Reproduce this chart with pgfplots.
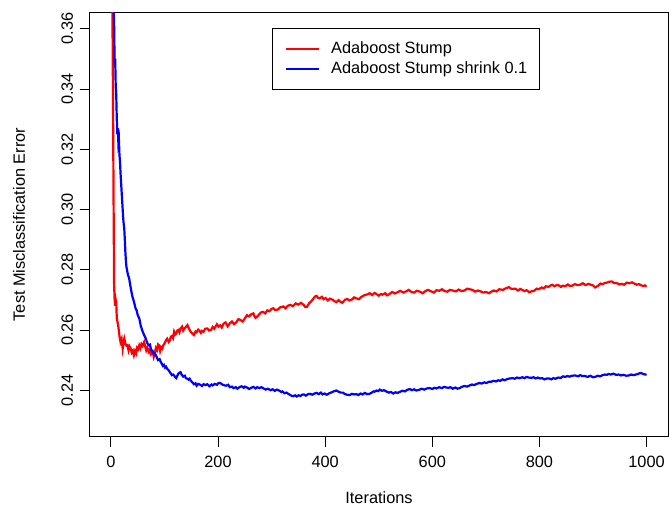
\documentclass[border=0pt]{standalone}
\usepackage{fontspec}
\setmainfont{Liberation Sans}
\usepackage{pgfplots}
\pgfplotsset{compat=1.18}
\pgfplotstableread{
it err
1 0.410
2 0.380
3 0.362
4 0.335
5 0.303
6 0.275
7 0.270
8 0.268
9 0.270
10 0.269
11 0.264
12 0.263
13 0.262
14 0.261
16 0.258
18 0.256
20 0.257
22 0.2538
24 0.2562
25 0.2571
27 0.2555
29 0.2548
31 0.2549
33 0.2532
35 0.2545
37 0.2538
39 0.2525
41 0.2531
43 0.2516
45 0.2530
47 0.2522
49 0.2541
51 0.2536
53 0.2549
55 0.2540
57 0.2553
59 0.2547
62 0.2560
64 0.2545
66 0.2532
68 0.2541
71 0.2527
73 0.2535
75 0.2520
78 0.2528
80 0.2511
82 0.2524
84 0.2540
86 0.2533
88 0.2552
90 0.2549
92 0.2530
94 0.2542
96 0.2538
98 0.2550
100 0.2555
103 0.2566
105 0.2571
108 0.2560
110 0.2565
112 0.2578
114 0.2580
116 0.2573
118 0.2594
120 0.2585
122 0.2588
124 0.2598
126 0.2600
128 0.2592
130 0.2605
133 0.2611
135 0.2598
138 0.2606
140 0.2610
143 0.2616
145 0.2607
147 0.2600
149 0.2594
151 0.2590
153 0.2586
155 0.2583
158 0.2595
160 0.2592
163 0.2601
165 0.2598
168 0.2590
170 0.2597
173 0.2594
176 0.2604
180 0.2605
183 0.2598
187 0.2600
190 0.2610
193 0.2604
195 0.2610
198 0.2619
201 0.2611
204 0.2615
207 0.2608
210 0.2620
214 0.2625
218 0.2612
222 0.2622
226 0.2628
230 0.2619
234 0.2625
238 0.2636
242 0.2633
246 0.2628
250 0.2638
254 0.2649
258 0.2645
262 0.2652
266 0.2655
268 0.2646
270 0.2640
273 0.2644
276 0.2650
280 0.2658
284 0.2660
288 0.2655
292 0.2665
296 0.2662
300 0.2670
303 0.2672
307 0.2666
312 0.2668
316 0.2675
322 0.2678
326 0.2672
330 0.2680
335 0.2683
340 0.2679
345 0.2688
350 0.2684
355 0.2690
360 0.2683
363 0.2676
366 0.2677
370 0.2688
374 0.2695
378 0.2704
381 0.2711
384 0.2713
387 0.2706
390 0.2705
394 0.2710
397 0.2702
401 0.2706
405 0.2698
409 0.2704
414 0.2700
418 0.2695
421 0.2692
425 0.2699
428 0.2694
432 0.2690
437 0.2700
441 0.2703
445 0.2698
450 0.2701
454 0.2708
458 0.2705
463 0.2702
467 0.2709
470 0.2712
474 0.2716
479 0.2718
483 0.2722
488 0.2716
492 0.2723
495 0.2720
500 0.2714
504 0.2719
507 0.2717
512 0.2722
516 0.2715
520 0.2719
525 0.2726
530 0.2721
535 0.2725
540 0.2730
546 0.2724
551 0.2728
556 0.2733
561 0.2726
566 0.2724
571 0.2730
577 0.2727
582 0.2722
587 0.2729
592 0.2733
598 0.2728
603 0.2724
608 0.2732
613 0.2730
618 0.2735
623 0.2729
628 0.2727
633 0.2733
638 0.2731
644 0.2728
649 0.2734
655 0.2729
660 0.2731
665 0.2737
670 0.2735
675 0.2733
680 0.2727
685 0.2731
690 0.2728
695 0.2724
700 0.2726
706 0.2722
710 0.2727
715 0.2731
720 0.2728
725 0.2735
732 0.2733
737 0.2738
743 0.2742
748 0.2736
755 0.2737
760 0.2731
764 0.2736
768 0.2733
772 0.2729
776 0.2732
781 0.2725
785 0.2728
790 0.2730
795 0.2737
799 0.2735
804 0.2741
808 0.2738
812 0.2745
817 0.2743
821 0.2748
824 0.2750
828 0.2745
832 0.2749
836 0.2748
840 0.2743
844 0.2747
848 0.2745
853 0.2751
857 0.2746
861 0.2747
866 0.2752
871 0.2749
876 0.2750
881 0.2755
886 0.2749
892 0.2753
896 0.2750
900 0.2748
904 0.2741
907 0.2744
911 0.2749
914 0.2754
918 0.2752
922 0.2756
926 0.2757
930 0.2760
935 0.2761
939 0.2756
945 0.2755
949 0.2751
954 0.2753
958 0.2750
963 0.2757
968 0.2755
973 0.2758
977 0.2754
982 0.2750
986 0.2752
990 0.2748
994 0.2746
997 0.2748
1000 0.2744
}\redtable
\pgfplotstableread{
it err
1 0.450
2 0.420
3 0.395
4 0.378
5 0.366
6 0.362
7 0.348
8 0.350
9 0.341
10 0.338
11 0.330
12 0.325
13 0.327
14 0.322
15 0.323
16 0.318
17 0.316
18 0.312
19 0.309
20 0.306
21 0.303
22 0.300
23 0.297
24 0.2950
25 0.2935
26 0.2900
27 0.2860
28 0.2830
29 0.2810
30 0.2800
32 0.2782
34 0.2772
36 0.2750
38 0.2730
40 0.2712
43 0.2694
46 0.2672
48 0.2665
50 0.2650
53 0.2638
56 0.2612
59 0.2596
62 0.2583
65 0.2572
68 0.2556
71 0.2549
73 0.2551
75 0.2535
78 0.2528
80 0.2520
82 0.2522
84 0.2516
86 0.2508
88 0.2500
91 0.2503
93 0.2494
95 0.2488
97 0.2481
99 0.2484
101 0.2475
103 0.2478
105 0.2471
108 0.2466
110 0.2460
112 0.2455
114 0.2450
116 0.2452
118 0.2449
120 0.2443
122 0.2440
124 0.2448
126 0.2455
128 0.2458
130 0.2460
132 0.2452
135 0.2445
138 0.2448
140 0.2440
143 0.2438
145 0.2435
147 0.2438
149 0.2432
152 0.2426
155 0.2420
158 0.2423
160 0.2415
163 0.2421
167 0.2418
170 0.2414
173 0.2420
177 0.2417
180 0.2420
184 0.2413
188 0.2419
190 0.2416
194 0.2421
198 0.2418
201 0.2424
204 0.2424
208 0.2419
212 0.2416
215 0.2415
219 0.2418
222 0.2410
226 0.2412
229 0.2407
233 0.2410
236 0.2405
240 0.2410
244 0.2413
248 0.2408
250 0.2412
254 0.2409
258 0.2404
262 0.2408
266 0.2411
270 0.2406
273 0.2410
277 0.2407
281 0.2410
285 0.2406
289 0.2402
293 0.2405
298 0.2400
302 0.2403
306 0.2398
310 0.2402
314 0.2399
318 0.2394
320 0.2396
324 0.2390
328 0.2392
331 0.2388
335 0.2384
338 0.2381
340 0.2380
344 0.2383
347 0.2379
350 0.2383
354 0.2381
357 0.2385
360 0.2386
364 0.2382
368 0.2387
372 0.2388
376 0.2385
380 0.2389
384 0.2391
388 0.2387
392 0.2392
395 0.2386
399 0.2389
403 0.2385
408 0.2390
412 0.2393
416 0.2396
421 0.2399
425 0.2395
429 0.2392
433 0.2392
437 0.2387
441 0.2385
446 0.2384
450 0.2388
454 0.2386
458 0.2387
462 0.2384
466 0.2389
470 0.2386
474 0.2391
478 0.2387
483 0.2388
487 0.2392
490 0.2396
492 0.2395
496 0.2399
499 0.2397
502 0.2402
506 0.2398
510 0.2400
515 0.2395
519 0.2392
523 0.2394
527 0.2389
531 0.2393
535 0.2391
540 0.2395
544 0.2398
549 0.2396
553 0.2401
558 0.2404
562 0.2400
566 0.2403
570 0.2399
575 0.2401
580 0.2405
585 0.2402
590 0.2406
595 0.2407
600 0.2404
604 0.2408
608 0.2406
613 0.2410
618 0.2407
622 0.2411
626 0.2409
630 0.2408
634 0.2410
638 0.2405
643 0.2409
647 0.2405
651 0.2407
655 0.2411
660 0.2414
665 0.2412
670 0.2416
674 0.2419
678 0.2417
683 0.2421
688 0.2424
692 0.2422
697 0.2426
701 0.2424
706 0.2428
710 0.2428
714 0.2431
719 0.2429
723 0.2433
727 0.2431
731 0.2436
735 0.2433
740 0.2437
745 0.2439
750 0.2440
754 0.2438
758 0.2442
763 0.2440
768 0.2443
772 0.2440
776 0.2444
780 0.2442
785 0.2441
789 0.2443
793 0.2439
797 0.2442
801 0.2439
805 0.2440
809 0.2436
814 0.2439
818 0.2439
822 0.2436
826 0.2440
830 0.2438
835 0.2442
840 0.2441
844 0.2446
848 0.2444
852 0.2447
856 0.2445
861 0.2448
867 0.2449
872 0.2446
876 0.2450
880 0.2447
885 0.2447
890 0.2444
895 0.2448
900 0.2443
905 0.2445
909 0.2448
913 0.2446
918 0.2450
922 0.2452
926 0.2451
929 0.2454
933 0.2452
938 0.2455
943 0.2451
948 0.2452
952 0.2449
957 0.2451
962 0.2448
967 0.2449
971 0.2452
976 0.2450
980 0.2452
984 0.2454
988 0.2457
991 0.2456
995 0.2453
998 0.2452
1000 0.2451
}\bluetable
\begin{document}
\fontsize{16.4}{19}\selectfont
\begin{tikzpicture}
\begin{axis}[
  scale only axis,
  width=578bp, height=423bp,
  xmin=-39, xmax=1040, ymin=0.2248, ymax=0.3652,
  xtick={0,200,400,600,800,1000},
  ytick={0.24,0.26,0.28,0.30,0.32,0.34,0.36},
  tick pos=left,
  tick align=outside,
  major tick length=10.5bp,
  every tick/.style={black, line width=0.8bp},
  axis line style={black, line width=1bp},
  /pgf/number format/assume math mode=true,
  /pgf/number format/set thousands separator={},
  ticklabel style={font=\fontsize{16.4}{19}\selectfont},
  xticklabel style={anchor=north, inner sep=0pt, text height=11.7bp, text depth=0pt, yshift=-9bp},
  yticklabel style={xshift=-6.5bp, rotate=90, anchor=south, inner sep=0pt, text height=11.7bp, text depth=0pt,
    /pgf/number format/.cd, fixed, fixed zerofill, precision=2},
  scaled y ticks=false,
  xlabel={Iterations},
  ylabel={Test Misclassification Error},
  xlabel style={at={(axis description cs:0.5,-0.1584)}, anchor=base, inner sep=0pt, font=\fontsize{16.4}{19}\selectfont},
  ylabel style={at={(axis description cs:-0.1125,0.5)}, anchor=base, rotate=0, inner sep=0pt, font=\fontsize{16.4}{19}\selectfont},
  legend style={at={(rel axis cs:0.3149,0.9638)}, anchor=north west, draw=black, line width=0.8bp,
    font=\fontsize{16.4}{19}\selectfont, inner xsep=12.5bp, inner ysep=12.5bp, row sep=4bp, column sep=11bp,
    nodes={inner sep=0pt, text height=12bp, text depth=4bp}},
  legend cell align=left,
  legend image code/.code={\draw[#1] (0bp,0bp) -- (33bp,0bp);},
  clip=true,
]
\addplot[red, line width=2.2bp] table[x=it, y=err] {\redtable};
\addlegendentry{Adaboost Stump}
\addplot[blue, line width=2.2bp] table[x=it, y=err] {\bluetable};
\addlegendentry{Adaboost Stump shrink 0.1}
\end{axis}
\path ([xshift=-90bp,yshift=-76bp]current axis.south west) rectangle ([xshift=2bp,yshift=13bp]current axis.north east);
\end{tikzpicture}
\end{document}
